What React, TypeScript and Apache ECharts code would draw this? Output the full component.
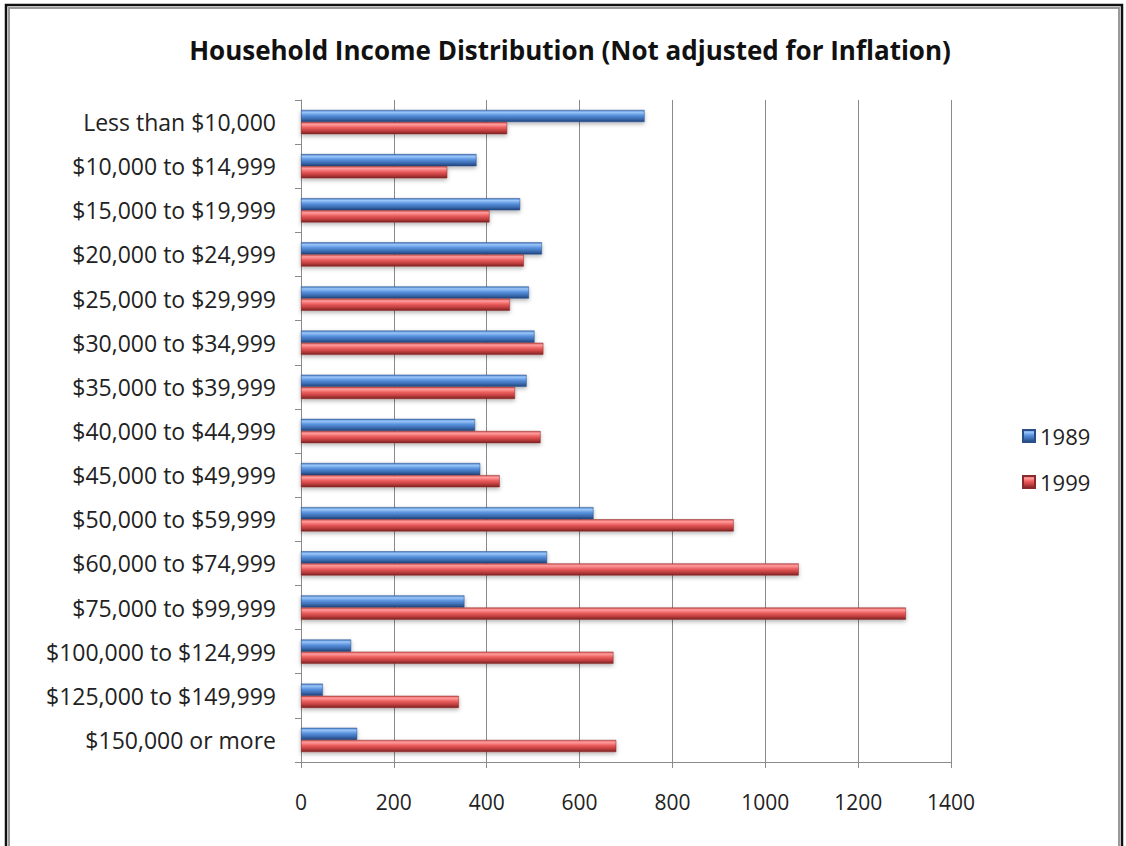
import React, { useEffect, useRef } from "react";
import * as echarts from "echarts";

const categories = [
  "Less than $10,000",
  "$10,000 to $14,999",
  "$15,000 to $19,999",
  "$20,000 to $24,999",
  "$25,000 to $29,999",
  "$30,000 to $34,999",
  "$35,000 to $39,999",
  "$40,000 to $44,999",
  "$45,000 to $49,999",
  "$50,000 to $59,999",
  "$60,000 to $74,999",
  "$75,000 to $99,999",
  "$100,000 to $124,999",
  "$125,000 to $149,999",
  "$150,000 or more",
];

const values1989 = [740, 378, 472, 519, 491, 503, 486, 375, 386, 630, 530, 352, 108, 47, 121];
const values1999 = [444, 315, 406, 480, 450, 522, 461, 516, 428, 932, 1072, 1303, 673, 340, 679];

const xTicks = { min: 0, max: 1400, interval: 200 };

const FONT = "'Open Sans', 'Noto Sans', sans-serif";

const blueGrad = new echarts.graphic.LinearGradient(0, 0, 0, 1, [
  { offset: 0, color: "#4a80cc" },
  { offset: 0.18, color: "#9ac6f8" },
  { offset: 0.45, color: "#5a92de" },
  { offset: 0.75, color: "#3a6bb0" },
  { offset: 1, color: "#20437a" },
]);
const redGrad = new echarts.graphic.LinearGradient(0, 0, 0, 1, [
  { offset: 0, color: "#d85454" },
  { offset: 0.18, color: "#ff9d9d" },
  { offset: 0.45, color: "#ec5e5e" },
  { offset: 0.75, color: "#bd3c3c" },
  { offset: 1, color: "#7a2222" },
]);

export default function App() {
  const ref = useRef<HTMLDivElement>(null);
  useEffect(() => {
    if (!ref.current) return;
    const chart = echarts.init(ref.current, undefined, { renderer: "svg" });
    chart.setOption({
      animation: false,
      backgroundColor: "#ffffff",
      title: {
        text: "Household Income Distribution (Not adjusted for Inflation)",
        left: 565,
        textAlign: "center",
        top: 32,
        textStyle: { fontFamily: FONT, fontWeight: "bold", fontSize: 26, color: "#111" },
      },
      graphic: [
        {
          type: "rect",
          shape: { x: 6, y: 5, width: 1116, height: 900 },
          style: { fill: "none", stroke: "#111", lineWidth: 2.5 },
          silent: true,
        },
        {
          type: "rect",
          shape: { x: 9, y: 8, width: 1110, height: 900 },
          style: { fill: "none", stroke: "#9a9a9a", lineWidth: 2 },
          silent: true,
        },
      ],
      legend: {
        orient: "vertical",
        left: 1017,
        top: 420,
        itemGap: 24,
        itemWidth: 12,
        itemHeight: 12,
        icon: "rect",
        textStyle: { fontFamily: FONT, fontSize: 22, color: "#222" },
        data: ["1989", "1999"],
      },
      grid: { left: 301, right: 175, top: 100, bottom: 84, containLabel: false },
      xAxis: {
        type: "value",
        min: xTicks.min,
        max: xTicks.max,
        interval: xTicks.interval,
        axisLine: { show: true, lineStyle: { color: "#8a8a8a", width: 1 } },
        axisTick: { show: true, length: 6, lineStyle: { color: "#8a8a8a" } },
        splitLine: { show: true, lineStyle: { color: "#8a8a8a", width: 1 } },
        axisLabel: {
          fontFamily: FONT,
          fontSize: 21,
          color: "#222",
          margin: 29,
          formatter: (v: number) => String(v),
        },
      },
      yAxis: {
        type: "category",
        inverse: true,
        data: categories,
        axisLine: { show: true, lineStyle: { color: "#8a8a8a", width: 1 } },
        axisTick: { show: true, length: 6, lineStyle: { color: "#8a8a8a" } },
        axisLabel: { fontFamily: FONT, fontSize: 23, color: "#222", margin: 25 },
      },
      series: [
        {
          name: "1989",
          type: "bar",
          data: values1989,
          barGap: "0%",
          barCategoryGap: "45%",
          itemStyle: {
            color: blueGrad,
            borderColor: "#2a4f86",
            borderWidth: 0.5,
            shadowColor: "rgba(0,0,0,0.3)",
            shadowBlur: 4,
            shadowOffsetY: 2,
          },
        },
        {
          name: "1999",
          type: "bar",
          data: values1999,
          barGap: "0%",
          barCategoryGap: "45%",
          itemStyle: {
            color: redGrad,
            borderColor: "#8a2b2b",
            borderWidth: 0.5,
            shadowColor: "rgba(0,0,0,0.3)",
            shadowBlur: 4,
            shadowOffsetY: 2,
          },
        },
      ],
    });
    return () => chart.dispose();
  }, []);
  return (
    <div
      ref={ref}
      style={{ position: "fixed", left: 0, top: 0, width: 1126, height: 846 }}
    />
  );
}
